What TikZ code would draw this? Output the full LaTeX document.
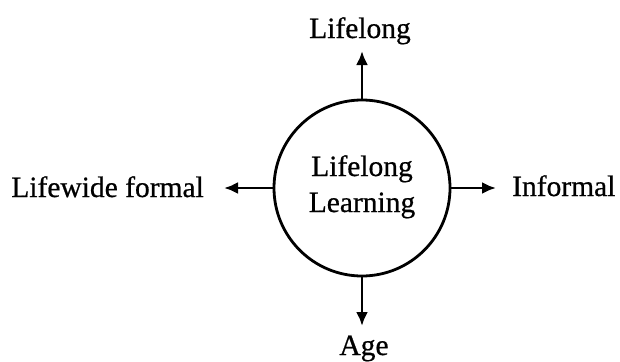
\documentclass[tikz,border=0pt]{standalone}
\usepackage{fontspec}
\setmainfont{Liberation Serif}[FakeBold=0.6]
\usetikzlibrary{arrows.meta}
\begin{document}
\begin{tikzpicture}[x=1pt,y=1pt,
  hub/.style={circle,draw,line width=2.8pt,minimum size=176pt,inner sep=0pt},
  lbl/.style={inner sep=0pt,font=\fontsize{29.5}{35}\selectfont},
  link/.style={line width=2.8pt,-{Latex[length=14pt,width=12pt]}}]
  \useasboundingbox (0,0) rectangle (620,-361);
  \node[hub] (c) at (362,-188) {};
  \node[lbl,anchor=base] (inner1) at (362,-176) {Lifelong};
  \node[lbl,anchor=base] (inner2) at (362,-212) {Learning};
  \node[lbl,anchor=base] (top) at (360,-38) {Lifelong};
  \node[lbl,anchor=base east] (left) at (204,-197) {Lifewide formal};
  \node[lbl,anchor=base west] (right) at (512,-196) {Informal};
  \node[lbl,anchor=base] (bottom) at (364,-355) {Age};
  \coordinate (tN) at (c.north |- 0,-51);
  \coordinate (tW) at (224,-188);
  \coordinate (tE) at (496,-188);
  \coordinate (tS) at (c.south |- 0,-326);
  \draw[link] (c.north) -- (tN);
  \draw[link] (c.west) -- (tW);
  \draw[link] (c.east) -- (tE);
  \draw[link] (c.south) -- (tS);
\end{tikzpicture}
\end{document}
